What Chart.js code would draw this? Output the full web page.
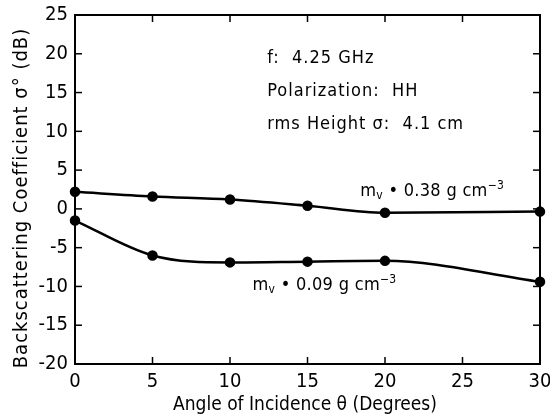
<!DOCTYPE html>
<html><head><meta charset="utf-8">
<script src="https://cdn.jsdelivr.net/npm/chart.js@4/dist/chart.umd.min.js"></script>
<style>html,body{margin:0;padding:0;background:#fff}#wrap{width:550px;height:418px}</style>
</head><body><div id="wrap"><canvas id="c" width="550" height="418"></canvas></div>
<script>
const angles = [0, 5, 10, 15, 20, 30];
const mv038 = [2.2, 1.6, 1.2, 0.4, -0.5, -0.35];
const mv009 = [-1.5, -6.0, -6.9, -6.8, -6.7, -9.4];
const xTicks = [0, 5, 10, 15, 20, 25, 30];
const yTicks = [-20, -15, -10, -5, 0, 5, 10, 15, 20, 25];
const infoLines = ["f:  4.25 GHz", "Polarization:  HH", "rms Height \u03c3:  4.1 cm"];
const mvValues = ["0.38", "0.09"];
const xTitle = "Angle of Incidence \u03b8 (Degrees)";
const yTitle = "Backscattering Coefficient \u03c3\u00b0 (dB)";
const FONT = "'Liberation Sans Narrow', 'DejaVu Sans Condensed', sans-serif";

function drawMv(ctx, x, y, val) {
  ctx.textAlign = 'left';
  ctx.letterSpacing = '0.3px';
  ctx.font = '18px ' + FONT;
  ctx.fillText('m', x, y); x += ctx.measureText('m').width;
  ctx.font = '12px ' + FONT;
  ctx.fillText('v', x, y + 4); x += ctx.measureText('v').width;
  ctx.font = '18px ' + FONT;
  const s = ' \u2022 ' + val + ' g cm';
  ctx.fillText(s, x, y); x += ctx.measureText(s).width;
  ctx.font = '12px ' + FONT;
  ctx.fillText('\u22123', x, y - 6);
}

const frame = {
  id: 'frame',
  afterDraw(chart) {
    const ctx = chart.ctx, a = chart.chartArea;
    const xs = chart.scales.x, ys = chart.scales.y;
    ctx.save();
    ctx.strokeStyle = '#000';
    ctx.lineWidth = 2;
    ctx.strokeRect(a.left, a.top, a.right - a.left, a.bottom - a.top);
    ctx.lineWidth = 1.5;
    const L = 7;
    xTicks.forEach(v => {
      const px = xs.getPixelForValue(v);
      ctx.beginPath(); ctx.moveTo(px, a.bottom); ctx.lineTo(px, a.bottom - L); ctx.stroke();
      ctx.beginPath(); ctx.moveTo(px, a.top); ctx.lineTo(px, a.top + L); ctx.stroke();
    });
    yTicks.forEach(v => {
      const py = ys.getPixelForValue(v);
      ctx.beginPath(); ctx.moveTo(a.left, py); ctx.lineTo(a.left + L, py); ctx.stroke();
      ctx.beginPath(); ctx.moveTo(a.right, py); ctx.lineTo(a.right - L, py); ctx.stroke();
    });
    ctx.fillStyle = '#000';
    ctx.textBaseline = 'middle';
    ctx.letterSpacing = '1px';
    ctx.font = '18px ' + FONT;
    ctx.textAlign = 'left';
    const tx = xs.getPixelForValue(12.4);
    infoLines.forEach((t, i) => {
      ctx.fillText(t, tx, ys.getPixelForValue(19.35 - i * 4.2));
    });
    drawMv(ctx, xs.getPixelForValue(18.4), ys.getPixelForValue(2.2), mvValues[0]);
    drawMv(ctx, xs.getPixelForValue(11.45), ys.getPixelForValue(-9.9), mvValues[1]);
    // axis titles
    ctx.font = '19px ' + FONT;
    ctx.letterSpacing = '0px';
    ctx.textAlign = 'center';
    ctx.fillText(xTitle, 305, 405);
    ctx.save();
    ctx.translate(22, 198);
    ctx.rotate(-Math.PI / 2);
    ctx.font = '20px ' + FONT;
    ctx.letterSpacing = '1px';
    ctx.fillText(yTitle, 0, 0);
    ctx.restore();
    ctx.restore();
  }
};

new Chart(document.getElementById('c'), {
  type: 'line',
  data: {
    datasets: [
      { label: '0.38', data: angles.map((x, i) => ({x, y: mv038[i]})),
        borderColor: '#000', backgroundColor: '#000', borderWidth: 2.5,
        pointRadius: 4, pointHoverRadius: 4, cubicInterpolationMode: 'monotone', clip: false },
      { label: '0.09', data: angles.map((x, i) => ({x, y: mv009[i]})),
        borderColor: '#000', backgroundColor: '#000', borderWidth: 2.5,
        pointRadius: 4, pointHoverRadius: 4, cubicInterpolationMode: 'monotone', clip: false }
    ]
  },
  options: {
    responsive: false, animation: false,
    layout: { padding: { top: 15, right: 10, left: 0, bottom: 0 } },
    plugins: { legend: { display: false }, tooltip: { enabled: false } },
    scales: {
      x: {
        type: 'linear', min: 0, max: 30,
        afterBuildTicks(s) { s.ticks = xTicks.map(v => ({value: v})); },
        afterFit(s) { s.height = 54; s.paddingLeft = 0; s.paddingRight = 0; },
        grid: { display: false, drawTicks: false },
        border: { display: false },
        ticks: { color: '#000', font: { family: FONT, size: 20 }, padding: 6, maxRotation: 0 }
      },
      y: {
        type: 'linear', min: -20, max: 25,
        afterBuildTicks(s) { s.ticks = yTicks.map(v => ({value: v})); },
        afterFit(s) { s.width = 75; s.paddingTop = 0; s.paddingBottom = 0; },
        grid: { display: false, drawTicks: false },
        border: { display: false },
        ticks: { color: '#000', font: { family: FONT, size: 20 }, padding: 7 }
      }
    }
  },
  plugins: [frame]
});
</script></body></html>
